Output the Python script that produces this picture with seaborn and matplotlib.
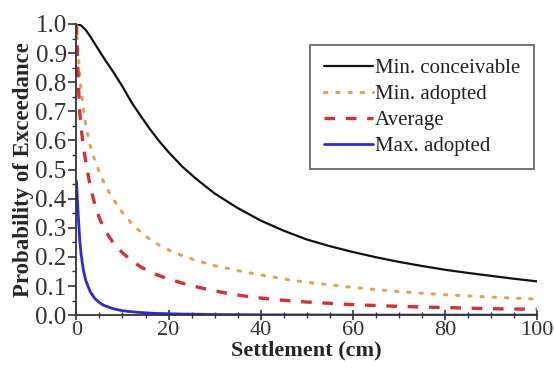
import matplotlib
matplotlib.use("Agg")
import matplotlib.pyplot as plt
from matplotlib.ticker import MultipleLocator
import seaborn as sns

sns.set_theme(style="ticks")
plt.rcParams["font.family"] = ["Liberation Serif", "DejaVu Serif"]

# ── data ─────────────────────────────────────────────────────────
min_conc_x = [0, 1, 2, 3, 4, 6, 8, 10, 12, 14, 16, 18, 20, 23, 26, 30, 35, 40, 45, 50,
              55, 60, 65, 70, 75, 80, 85, 90, 95, 100]
min_conc_y = [1.0, 0.995, 0.98, 0.957, 0.932, 0.882, 0.835, 0.785, 0.73, 0.683, 0.638,
              0.597, 0.56, 0.51, 0.468, 0.418, 0.368, 0.325, 0.29, 0.26, 0.237, 0.217,
              0.199, 0.183, 0.169, 0.156, 0.145, 0.135, 0.125, 0.116]

min_adopt_x = [0, 0.3, 0.6, 1, 1.5, 2, 3, 4, 5, 6, 7, 8, 10, 12, 14, 16, 18, 20, 23, 26,
               30, 35, 40, 45, 50, 55, 60, 70, 80, 90, 100]
min_adopt_y = [1.0, 0.92, 0.85, 0.775, 0.71, 0.655, 0.58, 0.53, 0.49, 0.455, 0.425, 0.398,
               0.352, 0.315, 0.285, 0.26, 0.24, 0.224, 0.204, 0.188, 0.17, 0.153, 0.138,
               0.124, 0.113, 0.104, 0.095, 0.081, 0.07, 0.062, 0.055]

avg_x = [0, 0.2, 0.4, 0.7, 1, 1.5, 2, 3, 4, 5, 6, 8, 10, 12, 14, 17, 20, 24, 28, 33, 38,
         44, 50, 60, 70, 80, 90, 100]
avg_y = [1.0, 0.9, 0.8, 0.7, 0.645, 0.58, 0.53, 0.44, 0.38, 0.333, 0.296, 0.248, 0.214,
         0.187, 0.165, 0.141, 0.124, 0.105, 0.09, 0.074, 0.062, 0.052, 0.045, 0.036, 0.03,
         0.026, 0.022, 0.02]

max_adopt_x = [0, 0.2, 0.4, 0.7, 1, 1.5, 2, 3, 4, 5, 6, 8, 10, 13, 17, 22, 30, 40, 60, 100]
max_adopt_y = [0.46, 0.4, 0.34, 0.26, 0.21, 0.155, 0.12, 0.08, 0.057, 0.043, 0.033, 0.022,
               0.015, 0.01, 0.006, 0.004, 0.002, 0.001, 0.0, 0.0]

x_ticks = [0, 20, 40, 60, 80, 100]
y_ticks = [0.0, 0.1, 0.2, 0.3, 0.4, 0.5, 0.6, 0.7, 0.8, 0.9, 1.0]

fig = plt.figure(figsize=(5.54, 3.69), dpi=100)
ax = fig.add_axes([0.138, 0.146, 0.831, 0.789])

sns.lineplot(x=min_conc_x, y=min_conc_y, ax=ax, color="#111111", linewidth=1.6,
             label="Min. conceivable")
sns.lineplot(x=min_adopt_x, y=min_adopt_y, ax=ax, color="#E8A050", linewidth=2.2,
             linestyle=(0, (0.8, 3.2)), dash_capstyle="round", label="Min. adopted")
sns.lineplot(x=avg_x, y=avg_y, ax=ax, color="#D8303A", linewidth=2.4,
             linestyle=(0, (3.2, 3.2)), label="Average")
sns.lineplot(x=max_adopt_x, y=max_adopt_y, ax=ax, color="#2A2ADB", linewidth=2.0,
             label="Max. adopted")

ax.set_xlim(0, 100)
ax.set_ylim(0, 1.0)
ax.set_xticks(x_ticks)
ax.set_yticks(y_ticks)
ax.set_yticklabels([f"{v:.1f}" for v in y_ticks])
ax.xaxis.set_minor_locator(MultipleLocator(5))
ax.yaxis.set_minor_locator(MultipleLocator(0.05))
ax.tick_params(axis="x", which="major", direction="inout", length=7, width=1.2,
               labelsize=16, colors="#333333", pad=1)
ax.tick_params(axis="x", which="minor", direction="inout", length=5, width=1.0, colors="#333333")
ax.tick_params(axis="y", which="major", direction="out", length=6, width=1.2,
               labelsize=18, colors="#333333", pad=1)
ax.tick_params(axis="y", which="minor", direction="out", length=3, width=1.0, colors="#333333")

sns.despine(ax=ax)
for side in ["left", "bottom"]:
    ax.spines[side].set_linewidth(1.3)
    ax.spines[side].set_color("#333333")

ax.set_xlabel("Settlement (cm)", fontsize=16, fontweight="bold", labelpad=0)
ax.set_ylabel("Probability of Exceedance", fontsize=16.5, fontweight="bold", labelpad=1)

leg = ax.legend(loc="upper right", bbox_to_anchor=(0.993, 0.927), fontsize=15,
                frameon=True, fancybox=False, handlelength=2.35, handletextpad=0.1,
                labelspacing=0.3, borderpad=0.65, borderaxespad=0)
leg.get_frame().set_edgecolor("#444444")
leg.get_frame().set_linewidth(1.3)
for t in leg.get_texts():
    t.set_color("#222222")

fig.savefig("out.png", dpi=100)
plt.close(fig)
